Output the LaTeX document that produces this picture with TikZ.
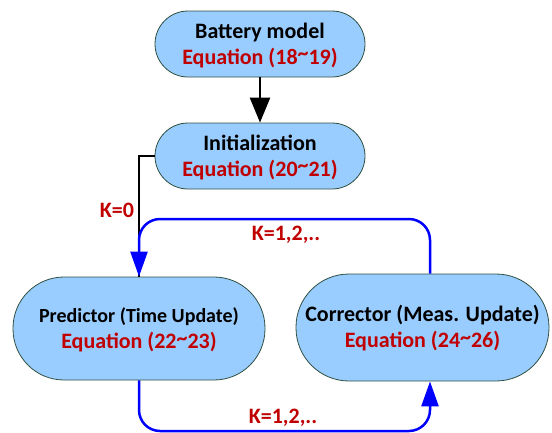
\documentclass[tikz,border=0pt]{standalone}
\usepackage{fontspec}
\setmainfont{Carlito}
\usetikzlibrary{arrows.meta,calc}
\definecolor{boxfill}{HTML}{99CCFF}
\definecolor{boxline}{HTML}{2F5040}
\definecolor{eqred}{HTML}{C00000}
\definecolor{loopblue}{HTML}{0000FF}
\newcommand{\lnstrut}{\rule[-5pt]{0pt}{24pt}}
\newcommand{\hitilde}{\raisebox{3.5pt}{\char`~}}
\tikzset{
  flowbox/.style={draw=boxline, line width=0.8pt, fill=boxfill, align=center,
    font=\bfseries\fontsize{22}{26}\selectfont, inner sep=0pt},
  klabel/.style={text=eqred, font=\bfseries\fontsize{22}{26}\selectfont},
  blackarrow/.style={draw=black, line width=2.5pt, -{Triangle[length=25pt,width=20pt]}},
  blackline/.style={draw=black, line width=2.5pt},
  bluearrow/.style={draw=loopblue, line width=2.5pt, rounded corners=21pt,
    -{Triangle[length=25pt,width=17pt]}},
}
\begin{document}
\begin{tikzpicture}[x=1pt,y=-1pt]
\useasboundingbox (0,0) rectangle (552,432);
\node[flowbox, minimum width=210pt, minimum height=66pt, rounded corners=33pt] (bat) at (260,44)
  {\lnstrut Battery model\\\lnstrut\textcolor{eqred}{Equation (18\hitilde 19)}};
\node[flowbox, minimum width=210pt, minimum height=66pt, rounded corners=33pt] (init) at (260,156)
  {\lnstrut Initialization\\\lnstrut\textcolor{eqred}{Equation (20\hitilde 21)}};
\node[flowbox, minimum width=252pt, minimum height=103pt, rounded corners=51pt] (pred) at (139,328.5)
  {\lnstrut{\fontsize{20}{24}\selectfont Predictor (Time Update)}\\\lnstrut\textcolor{eqred}{Equation (22\hitilde 23)}};
\node[flowbox, minimum width=253pt, minimum height=107pt, rounded corners=53pt] (corr) at (422.5,327.5)
  {\lnstrut Corrector (Meas. Update)\\\lnstrut\textcolor{eqred}{Equation (24\hitilde 26)}};
\coordinate (toprow) at (0,219);
\coordinate (botrow) at (0,431);
\coordinate (corrN) at ([xshift=7.5pt]corr.north);
\coordinate (corrS) at ([xshift=7.5pt]corr.south);
\draw[blackarrow] (bat) -- (init);
\draw[blackline] (init.west) -| (pred.north);
\draw[bluearrow] (corrN) |- (toprow -| pred.north) -- (pred.north);
\draw[bluearrow] (pred.south) |- (botrow -| corrS) -- (corrS);
\node[klabel] (k0) at (117,210) {K=0};
\node[klabel] (ktop) at (286,235) {K=1,2,..};
\node[klabel] (kbot) at (283,418) {K=1,2,..};
\end{tikzpicture}
\end{document}
